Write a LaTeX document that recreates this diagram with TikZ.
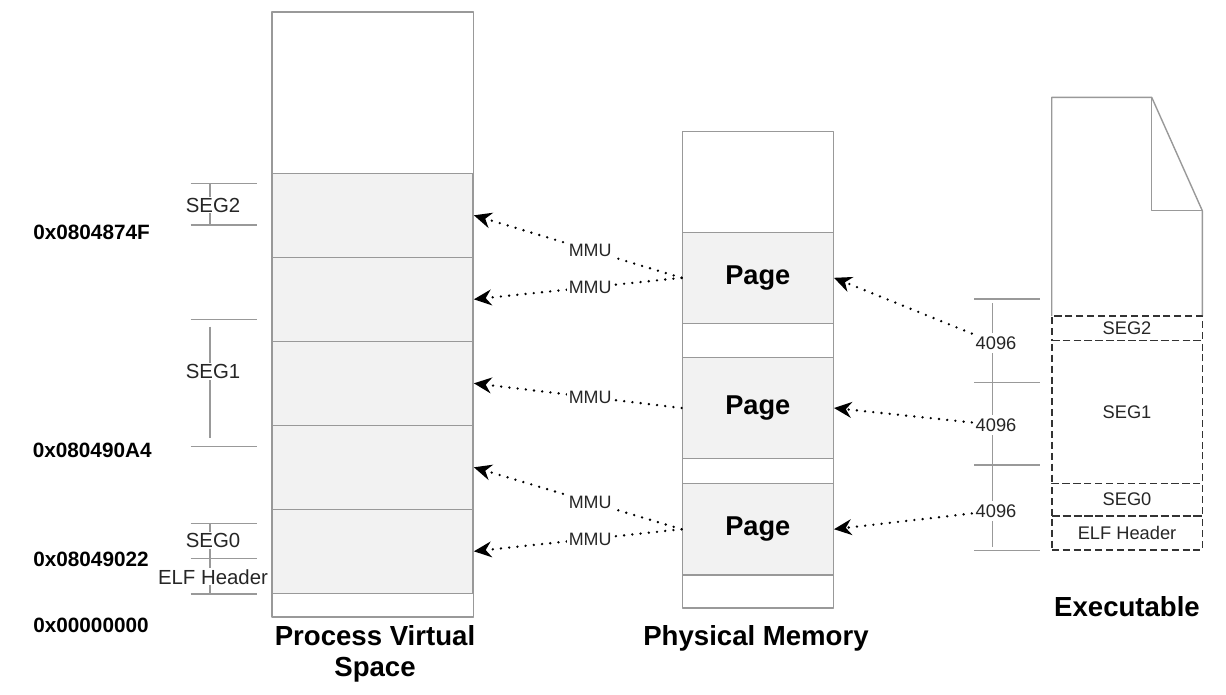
\documentclass[tikz,border=0pt]{standalone}
\usepackage{fontspec}
\setmainfont{Liberation Sans}
\usetikzlibrary{arrows.meta}
\begin{document}
\begin{tikzpicture}[x=0.02cm, y=-0.02cm, line join=round, >={Stealth[length=10pt,width=9pt]},
    frame/.style={draw=black!40, line width=0.8pt},
    slot/.style={frame, fill=black!5, minimum width=4.02cm, minimum height=1.68cm, inner sep=0pt},
    page/.style={frame, fill=black!5, minimum width=3.02cm, inner sep=0pt, font=\fontsize{15.5}{18}\selectfont\bfseries},
    part/.style={draw=black!80, dash pattern=on 4pt off 2.2pt, line width=0.85pt, minimum width=3.01cm, inner sep=0pt, text=black!85, font=\fontsize{10.4}{12}\selectfont},
    tick/.style={draw=black!40, line width=0.7pt},
    seg/.style={fill=white, inner sep=0.6pt, text=black!85, font=\fontsize{11.6}{13}\selectfont},
    size/.style={fill=white, inner sep=2pt, text=black!85, font=\fontsize{10.4}{12}\selectfont},
    mapline/.style={->, line width=1.5pt, line cap=round, dash pattern=on 0pt off 4.7pt},
    mmu/.style={fill=white, inner sep=1pt, text=black!85, font=\fontsize{10.2}{12}\selectfont},
    addr/.style={anchor=west, inner sep=0pt, font=\fontsize{11.8}{14}\selectfont\bfseries},
    title/.style={align=center, font=\fontsize{15.7}{17.5}\selectfont\bfseries}]
\useasboundingbox (0,0) rectangle (1226,694);

% process virtual space
\draw[frame] (272,12) rectangle (473.5,617);
\foreach \i in {1,...,5}
  \node[slot] (v\i) at (372.7,{173.3+84*(\i-1)+42}) {};

% segment brackets
\draw[tick] (190.7,183.3) -- (257.3,183.3) (190.7,225) -- (257.3,225) (210,183.3) -- (210,225);
\draw[tick] (190.7,319.3) -- (257.3,319.3) (190.7,446.3) -- (257.3,446.3) (210,326.7) -- (210,438);
\draw[tick] (190.7,523.3) -- (257.3,523.3) (190.7,558.7) -- (257.3,558.7) (190.7,594) -- (257.3,594) (210,523.3) -- (210,594);
\node[seg] (s2) at (213,205) {SEG2};
\node[seg] (s1) at (213,371.7) {SEG1};
\node[seg] (s0) at (213,540.7) {SEG0};
\node[seg] (sh) at (213,576.7) {ELF Header};

% addresses
\node[addr] (a3) at (33,232.3) {0x0804874F};
\node[addr] (a2) at (32.5,450) {0x080490A4};
\node[addr] (a1) at (33,559) {0x08049022};
\node[addr] (a0) at (33,625) {0x00000000};

% physical memory
\draw[frame] (682.3,131.7) rectangle (833.3,608);
\node[page, minimum height=1.82cm] (pg1) at (757.8,277.8) {Page};
\node[page, minimum height=2.01cm] (pg2) at (757.8,408) {Page};
\node[page, minimum height=1.834cm] (pg3) at (757.8,529.2) {Page};

% executable
\draw[frame] (1051.7,316) -- (1051.7,97.3) -- (1151.7,97.3) -- (1202.3,210.7) -- (1202.3,316);
\draw[frame] (1151.7,97.3) -- (1151.7,210.7) -- (1202.3,210.7);
\node[part, minimum height=0.494cm] (e2) at (1127,328.35) {SEG2};
\node[part, minimum height=2.852cm] (e1) at (1127,412) {SEG1};
\node[part, minimum height=0.654cm] (e0) at (1127,499.65) {SEG0};
\node[part, minimum height=0.68cm] (eh) at (1127,533) {ELF Header};

% page sizes
\draw[tick] (974,299) -- (1040,299) (974,382.7) -- (1040,382.7) (974,465) -- (1040,465) (974,550.7) -- (1040,550.7) (992.7,303) -- (992.7,546.7);
\node[size] (k1) at (996,343.3) {4096};
\node[size] (k2) at (996,425) {4096};
\node[size] (k3) at (996,510.7) {4096};

% mappings
\draw[mapline] (k1) -- (pg1.east);
\draw[mapline] (k2) -- (pg2.east);
\draw[mapline] (k3) -- (pg3.east);
\draw[mapline] (pg1.west) -- node[mmu, pos=0.44] {MMU} (v1.east);
\draw[mapline] (pg1.west) -- node[mmu, pos=0.44] {MMU} (v2.east);
\draw[mapline] (pg2.west) -- node[mmu, pos=0.44] {MMU} (v3.east);
\draw[mapline] (pg3.west) -- node[mmu, pos=0.44] {MMU} (v4.east);
\draw[mapline] (pg3.west) -- node[mmu, pos=0.44] {MMU} (v5.east);

% titles
\node[title] (tv) at (375,654) {Process Virtual\\Space};
\node[title] (tp) at (756,638) {Physical Memory};
\node[title] (te) at (1127,607) {Executable};
\end{tikzpicture}
\end{document}
